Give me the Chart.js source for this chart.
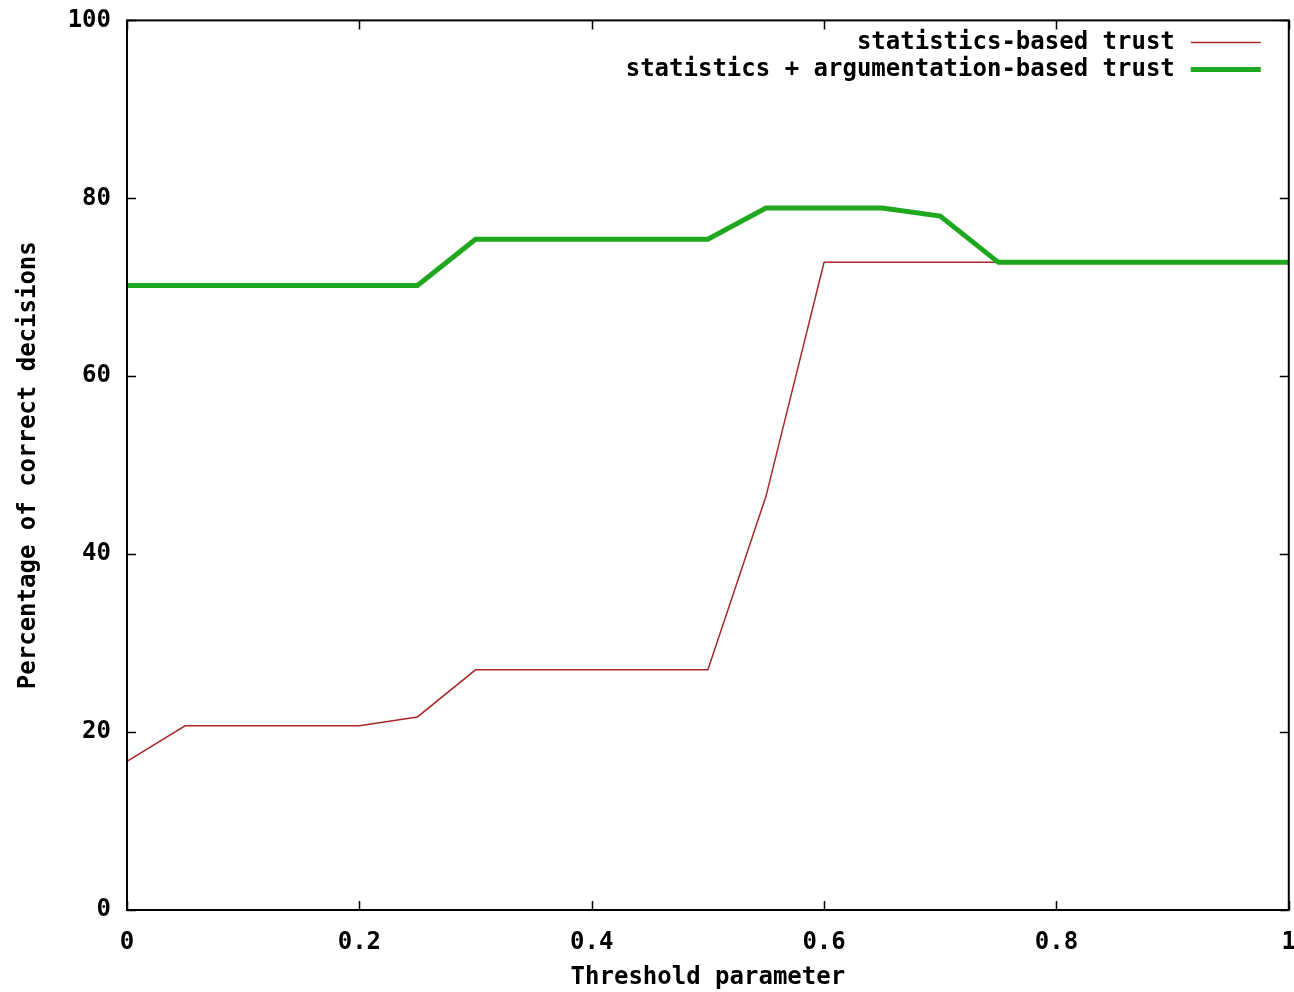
<!DOCTYPE html>
<html>
<head>
<meta charset="utf-8">
<script src="https://cdn.jsdelivr.net/npm/chart.js@4/dist/chart.umd.min.js"></script>
<style>
  html, body { margin: 0; padding: 0; background: #fff; overflow: hidden; }
  #wrap { width: 1314px; height: 1002px; margin-top: -10px; }
</style>
</head>
<body>
<div id="wrap"><canvas id="chart"></canvas></div>
<script>
// threshold values (x) and percentage of correct decisions (y)
const thresholds = [0, 0.05, 0.1, 0.15, 0.2, 0.25, 0.3, 0.35, 0.4, 0.45, 0.5, 0.55, 0.6, 0.65, 0.7, 0.75, 0.8, 0.85, 0.9, 0.95, 1];
const statsTrust = [16.7, 20.7, 20.7, 20.7, 20.7, 21.7, 27.0, 27.0, 27.0, 27.0, 27.0, 46.5, 72.8, 72.8, 72.8, 72.8, 72.8, 72.8, 72.8, 72.8, 72.8];
const argTrust = [70.2, 70.2, 70.2, 70.2, 70.2, 70.2, 75.4, 75.4, 75.4, 75.4, 75.4, 78.9, 78.9, 78.9, 78.0, 72.8, 72.8, 72.8, 72.8, 72.8, 72.8];
const xTicks = [0, 0.2, 0.4, 0.6, 0.8, 1];
const yTicks = [0, 20, 40, 60, 80, 100];

const seriesLabels = ["statistics-based trust", "statistics + argumentation-based trust"];
const font = "bold 24px 'DejaVu Sans Mono'";

function toPoints(ys) {
    return thresholds.map((x, i) => ({ x: x, y: ys[i] }));
}

// gnuplot-like frame, inward ticks and legend inside the plot
const gnuplotFrame = {
    id: "gnuplotFrame",
    afterDatasetsDraw(chart) {
        const ctx = chart.ctx;
        const a = chart.chartArea;
        const xs = chart.scales.x;
        const ys = chart.scales.y;
        ctx.save();
        ctx.strokeStyle = "#000";
        ctx.lineWidth = 2;
        ctx.strokeRect(a.left, a.top, a.right - a.left, a.bottom - a.top);
        ctx.lineWidth = 1.5;
        ctx.beginPath();
        for (const v of xTicks) {
            const px = Math.round(xs.getPixelForValue(v)) + 0.5;
            ctx.moveTo(px, a.bottom); ctx.lineTo(px, a.bottom - 9);
            ctx.moveTo(px, a.top); ctx.lineTo(px, a.top + 9);
        }
        for (const v of yTicks) {
            const py = Math.round(ys.getPixelForValue(v)) + 0.5;
            ctx.moveTo(a.left, py); ctx.lineTo(a.left + 9, py);
            ctx.moveTo(a.right, py); ctx.lineTo(a.right - 9, py);
        }
        ctx.stroke();

        // legend
        ctx.font = font;
        ctx.textAlign = "right";
        ctx.textBaseline = "middle";
        chart.data.datasets.forEach((ds, i) => {
            const y = a.top + 22 + i * 27;
            ctx.fillStyle = "#000";
            ctx.fillText(ds.label, a.right - 114, y);
            ctx.strokeStyle = ds.borderColor;
            ctx.lineWidth = ds.borderWidth;
            ctx.beginPath();
            ctx.moveTo(a.right - 98, y);
            ctx.lineTo(a.right - 28, y);
            ctx.stroke();
        });
        ctx.restore();
    }
};

new Chart(document.getElementById("chart"), {
    type: "scatter",
    data: {
        datasets: [
            {
                label: seriesLabels[0],
                data: toPoints(statsTrust),
                showLine: true,
                borderColor: "#a82828",
                borderWidth: 1.5,
                pointRadius: 0,
                tension: 0,
                order: 1
            },
            {
                label: seriesLabels[1],
                data: toPoints(argTrust),
                showLine: true,
                borderColor: "#1fa81f",
                borderWidth: 5,
                pointRadius: 0,
                tension: 0,
                order: 0
            }
        ]
    },
    options: {
        responsive: true,
        maintainAspectRatio: false,
        animation: false,
        layout: { padding: { top: 10, right: 4, left: 0, bottom: 0 } },
        plugins: {
            legend: { display: false },
            tooltip: { enabled: false }
        },
        scales: {
            x: {
                type: "linear",
                min: 0,
                max: 1,
                afterBuildTicks(scale) { scale.ticks = xTicks.map(v => ({ value: v })); },
                afterFit(scale) { scale.height = 82; },
                grid: { display: false, drawTicks: false },
                border: { display: false },
                ticks: {
                    color: "#000",
                    font: { family: "DejaVu Sans Mono", size: 24, weight: "bold" },
                    padding: 18,
                    maxRotation: 0,
                    callback: v => String(v)
                },
                title: {
                    display: true,
                    text: "Threshold parameter",
                    color: "#000",
                    font: { family: "DejaVu Sans Mono", size: 24, weight: "bold" },
                    padding: { top: 10, bottom: 0 }
                }
            },
            y: {
                min: 0,
                max: 100,
                afterBuildTicks(scale) { scale.ticks = yTicks.map(v => ({ value: v })); },
                afterFit(scale) { scale.width = 127; },
                grid: { display: false, drawTicks: false },
                border: { display: false },
                ticks: {
                    color: "#000",
                    font: { family: "DejaVu Sans Mono", size: 24, weight: "bold" },
                    padding: 16
                },
                title: {
                    display: true,
                    text: "Percentage of correct decisions",
                    color: "#000",
                    font: { family: "DejaVu Sans Mono", size: 24, weight: "bold" },
                    padding: { top: 14, bottom: 0 }
                }
            }
        }
    },
    plugins: [gnuplotFrame]
});
</script>
</body>
</html>
